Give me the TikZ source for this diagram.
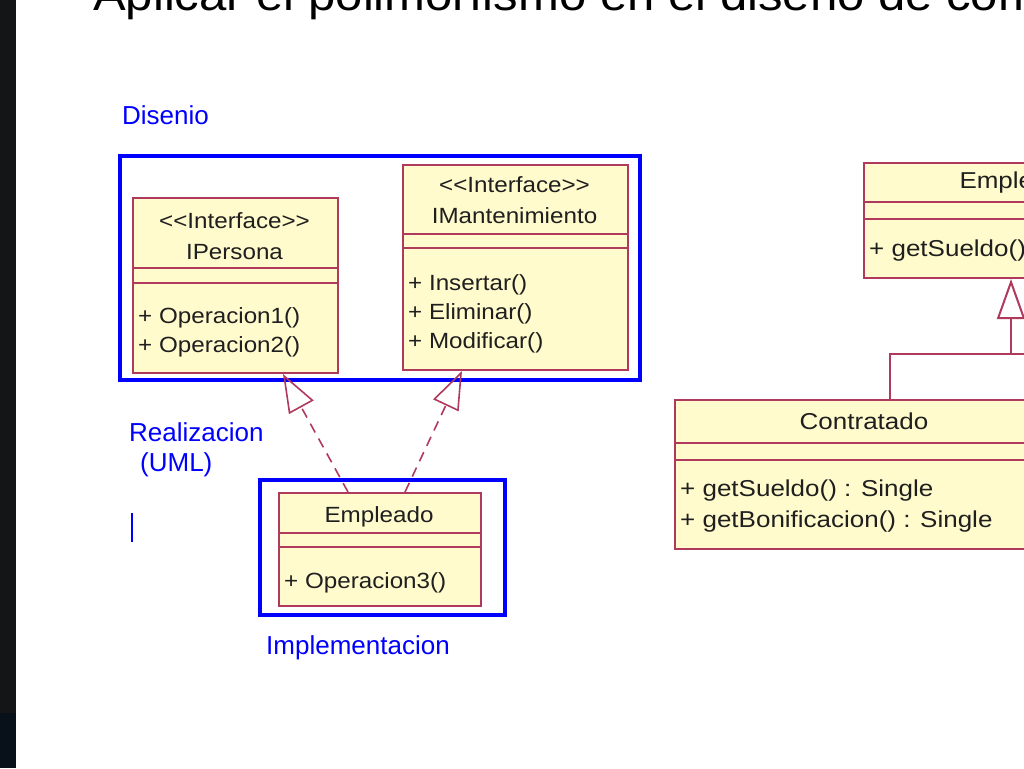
\documentclass[tikz,border=0pt]{standalone}
\usepackage{fontspec}
\setmainfont{Liberation Sans}
\newfontfamily\titlefnt[FakeStretch=1.09]{Liberation Sans}
\newfontfamily\umlfnt[FakeStretch=1.1]{Liberation Sans}
\newfontfamily\umlfntb[FakeStretch=1.13]{Liberation Sans}
\usetikzlibrary{arrows.meta}
\definecolor{umlfill}{HTML}{FFFBCD}
\definecolor{umlline}{HTML}{B03A5E}
\definecolor{slideblue}{HTML}{0000FF}
\definecolor{stripa}{HTML}{141517}
\definecolor{stripb}{HTML}{08101A}
\begin{document}
\begin{tikzpicture}[x=1pt,y=-1pt,
  umlbox/.style={draw=umlline, fill=umlfill, line width=2pt, rectangle, inner sep=0pt, anchor=north west},
  sep/.style={draw=umlline, line width=2pt},
  umltxt/.style={font=\umlfnt\fontsize{22}{24}\selectfont, text=black!88, inner sep=0pt},
  umltxtb/.style={font=\umlfntb\fontsize{23}{25}\selectfont, text=black!88, inner sep=0pt},
  bluelbl/.style={font=\fontsize{26}{28}\selectfont, text=slideblue, inner sep=0pt, anchor=west},
  bluebox/.style={draw=slideblue, line width=4pt, rectangle, inner sep=0pt, anchor=north west},
  realiz/.style={draw=umlline, line width=1.6pt, dash pattern=on 10pt off 7pt, -{Triangle[open, length=38pt, width=28pt, line width=1.6pt]}},
  gener/.style={draw=umlline, line width=2pt},
  genarrow/.style={draw=umlline, line width=2pt, -{Triangle[open, length=40pt, width=28pt, line width=2pt]}}
]
\useasboundingbox (0,0) rectangle (1024,768);
\clip (0,0) rectangle (1024,768);
\fill[white] (0,0) rectangle (1024,768);
% dark strip on the left
\fill[stripa] (0,0) rectangle (16,713);
\fill[stripb] (0,713) rectangle (16,768);

% title (cut at the top)
\node[anchor=base west, inner sep=0pt, font=\titlefnt\fontsize{45}{50}\selectfont] (title) at (93,11) {Aplicar el polimorfismo en el diseño de componentes};

% blue grouping frames
\node[bluebox, minimum width=520pt, minimum height=224pt] (disbox) at (118,154) {};
\node[bluebox, minimum width=245pt, minimum height=135pt] (impbox) at (258,478) {};

% blue labels
\node[bluelbl] (ldis) at (122,115) {Disenio};
\node[bluelbl] (lrea) at (129,432) {Realizacion};
\node[bluelbl] (luml) at (140,465) {(UML)};
\node[bluelbl] (limp) at (266,648) {Implementacion};
\draw[slideblue, line width=2pt] (131.5,513) -- (131.5,542);

% IPersona
\node[umlbox, minimum width=205pt, minimum height=175pt] (ip) at (132,197) {};
\draw[sep] (ip.west |- 0,268) -- (ip.east |- 0,268);
\draw[sep] (ip.west |- 0,283) -- (ip.east |- 0,283);
\node[umltxt] (ipst) at (234.5,221) {<<Interface>>};
\node[umltxt] (ipname) at (234.5,252) {IPersona};
\node[umltxt, anchor=west] (ipop1) at (138,318) {+ Operacion1()};
\node[umltxt, anchor=west] (ipop2) at (138,347) {+ Operacion2()};

% IMantenimiento
\node[umlbox, minimum width=225pt, minimum height=205pt] (im) at (402,164) {};
\draw[sep] (im.west |- 0,234) -- (im.east |- 0,234);
\draw[sep] (im.west |- 0,248) -- (im.east |- 0,248);
\node[umltxt] (imst) at (514.5,185) {<<Interface>>};
\node[umltxt] (imname) at (514.5,216) {IMantenimiento};
\node[umltxt, anchor=west] (imop1) at (408,285) {+ Insertar()};
\node[umltxt, anchor=west] (imop2) at (408,314) {+ Eliminar()};
\node[umltxt, anchor=west] (imop3) at (408,343) {+ Modificar()};

% Empleado (implementation)
\node[umlbox, minimum width=202pt, minimum height=113pt] (emp) at (278,492) {};
\draw[sep] (emp.west |- 0,532.5) -- (emp.east |- 0,532.5);
\draw[sep] (emp.west |- 0,547) -- (emp.east |- 0,547);
\node[umltxt] (empname) at (379,517) {Empleado};
\node[umltxt, anchor=west] (empop) at (284,583) {+ Operacion3()};

% realization connectors
\draw[realiz] ([xshift=70pt]emp.north west) -- ([xshift=151pt]ip.south west);
\draw[realiz] ([xshift=127pt]emp.north west) -- ([xshift=60pt]im.south west);

% right side: Empleado (cut)
\node[umlbox, minimum width=310pt, minimum height=115pt] (emp2) at (863,162) {};
\draw[sep] (emp2.west |- 0,202) -- (emp2.east |- 0,202);
\draw[sep] (emp2.west |- 0,219) -- (emp2.east |- 0,219);
\node[umltxtb] (emp2name) at (1018,183) {Empleado};
\node[umltxtb, anchor=west] (emp2op) at (869,251) {+ getSueldo() : Single};

% Contratado
\node[umlbox, minimum width=380pt, minimum height=149pt] (con) at (674,399) {};
\draw[sep] (con.west |- 0,443) -- (con.east |- 0,443);
\draw[sep] (con.west |- 0,460) -- (con.east |- 0,460);
\node[umltxtb] (conname) at (864,421) {Contratado};
\node[umltxtb, anchor=west] (conop1) at (680,491) {+ getSueldo() : Single};
\node[umltxtb, anchor=west] (conop2) at (680,522) {+ getBonificacion() : Single};

% generalization
\coordinate (g1) at (890,354);
\coordinate (gj) at (1011,354);
\coordinate (gout) at (1040,354);
\draw[gener] ([xshift=216pt]con.north west) -- (g1) -- (gout);
\draw[genarrow] (gj) -- ([xshift=148pt]emp2.south west);
\end{tikzpicture}
\end{document}
